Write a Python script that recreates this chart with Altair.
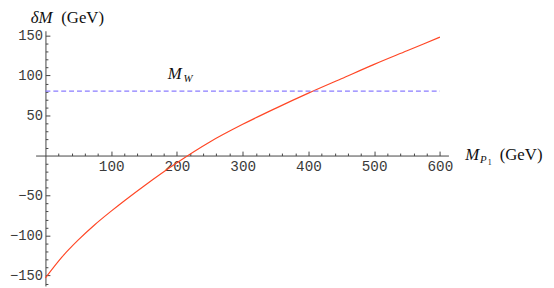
import altair as alt
import pandas as pd

# ---- data ----
mass = [0, 25, 50, 75, 100, 150, 200, 250, 300, 350, 400, 450, 500, 550, 600]
delta_m = [-153, -127, -105.5, -86.5, -69.5, -38, -9, 17, 39, 59, 78, 96, 114, 131, 148]
mw_x = [0, 600]
mw_y = [80.4, 80.4]
x_label_values = [100, 200, 300, 400, 500, 600]
y_label_values = [-150, -100, -50, 50, 100, 150]
x_tick_values = list(range(20, 601, 20))
y_tick_values = [v for v in range(-160, 151, 10) if v != 0]

W, H = 419, 259
xs = alt.Scale(domain=[-15, 613], nice=False, zero=False)
ys = alt.Scale(domain=[-163, 156], nice=False, zero=False)

x_zero_px = W * 15 / 628          # distance of x=0 from the left edge
y_zero_px = H * 156 / 319         # distance of y=0 from the top edge

AX = "#444444"
LBL_FONT = "Liberation Mono"
SERIF = "Liberation Serif"

curve_df = pd.DataFrame({"mass": mass, "delta_m": delta_m})
mw_df = pd.DataFrame({"mass": mw_x, "delta_m": mw_y})

curve = alt.Chart(curve_df).mark_line(
    color="#FF4726", strokeWidth=1.2, clip=True, interpolate="monotone"
).encode(
    x=alt.X("mass:Q", scale=xs, axis=alt.Axis(
        orient="bottom", offset=-(H - y_zero_px), values=x_label_values,
        ticks=False, tickSize=0, domain=True, domainColor=AX, domainWidth=1,
        labelFont=LBL_FONT, labelFontSize=14.5, labelColor="#3a3a3a",
        labelPadding=4, grid=False, title=None)),
    y=alt.Y("delta_m:Q", scale=ys, axis=alt.Axis(
        orient="left", offset=-x_zero_px, values=y_label_values,
        ticks=False, tickSize=0, domain=True, domainColor=AX, domainWidth=1,
        labelFont=LBL_FONT, labelFontSize=14, labelColor="#3a3a3a",
        labelPadding=3, grid=False, title=None,
        labelExpr="datum.value < 0 ? '\u2212' + abs(datum.value) : datum.label")),
)

mw_line = alt.Chart(mw_df).mark_line(
    color="#8A7CFF", strokeWidth=1.3, strokeDash=[5, 3]
).encode(
    x=alt.X("mass:Q", scale=xs, axis=alt.Axis(
        orient="top", offset=-y_zero_px, values=x_tick_values,
        labels=False, domain=False, grid=False, title=None, tickColor=AX,
        tickSize={"condition": {"test": "datum.value % 100 === 0", "value": 4.5}, "value": 2.5})),
    y=alt.Y("delta_m:Q", scale=ys, axis=alt.Axis(
        orient="right", offset=-(W - x_zero_px), values=y_tick_values,
        labels=False, domain=False, grid=False, title=None, tickColor=AX,
        tickSize={"condition": {"test": "datum.value % 50 === 0", "value": 4.5}, "value": 2.5})),
)


def txt(s, x, y, size, italic=False):
    return alt.Chart(pd.DataFrame({"t": [s]})).mark_text(
        align="left", baseline="alphabetic", font=SERIF, fontSize=size,
        fontStyle="italic" if italic else "normal", color="#111111"
    ).encode(x=alt.value(x), y=alt.value(y), text="t:N")


labels = [
    txt("\u03b4M", -5, -8, 17, True),
    txt("(GeV)", 26, -8, 17),
    txt("M", 436, 131, 17, True),
    txt("P", 451, 134, 11, True),
    txt("1", 459, 136, 8),
    txt("(GeV)", 471, 131, 17),
    txt("M", 134, 49, 17, True),
    txt("W", 150, 52, 11, True),
]

chart = alt.layer(curve, mw_line, *labels).resolve_axis(
    x="independent", y="independent"
).properties(
    width=W, height=H,
    autosize=alt.AutoSizeParams(type="none"),
    padding={"left": 28, "top": 21, "right": 99, "bottom": 0},
).configure_view(stroke=None)

chart.save("out.html", embed_options={"renderer": "svg", "actions": False})
